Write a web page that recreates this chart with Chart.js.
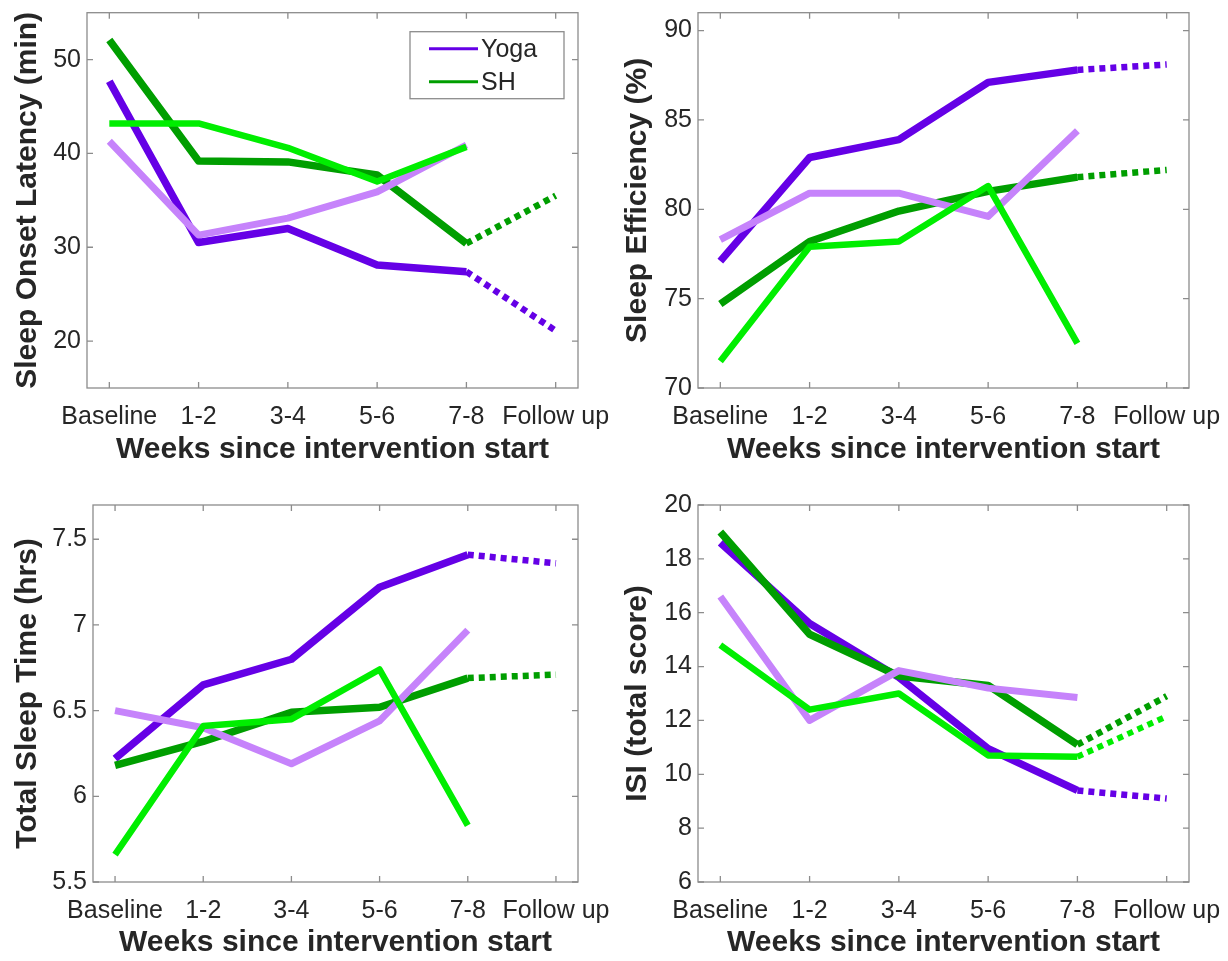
<!DOCTYPE html>
<html>
<head>
<meta charset="utf-8">
<script src="https://cdn.jsdelivr.net/npm/chart.js@4.4.0/dist/chart.umd.min.js"></script>
<style>
  body { margin: 0; background: #fff; }
  #fig { position: relative; width: 1228px; height: 961px; overflow: hidden; }
  canvas { position: absolute; }
</style>
</head>
<body>
<div id="fig">
  <canvas id="c1" width="614" height="480" style="left:0px;top:0px"></canvas>
  <canvas id="c2" width="618" height="480" style="left:610px;top:0px"></canvas>
  <canvas id="c3" width="614" height="481" style="left:0px;top:480px"></canvas>
  <canvas id="c4" width="618" height="481" style="left:610px;top:480px"></canvas>
</div>
<script>
// categorias del eje x (comunes a los 4 paneles)
var semanas = ['Baseline', '1-2', '3-4', '5-6', '7-8', 'Follow up'];

// Sleep Onset Latency (min)
var solYoga = [47.7, 30.5, 32.0, 28.1, 27.4, 21.1];
var solYoga2 = [41.3, 31.3, 33.1, 35.9, 40.9, null];
var solSH = [52.1, 39.2, 39.1, 37.7, 30.4, 35.5];
var solSH2 = [43.2, 43.2, 40.6, 37.0, 40.7, null];
var solTicks = [20, 30, 40, 50];

// Sleep Efficiency (%)
var seYoga = [77.1, 82.9, 83.9, 87.1, 87.8, 88.1];
var seYoga2 = [78.3, 80.9, 80.9, 79.6, 84.4, null];
var seSH = [74.7, 78.2, 79.9, 81.0, 81.8, 82.2];
var seSH2 = [71.5, 77.9, 78.2, 81.3, 72.5, null];
var seTicks = [70, 75, 80, 85, 90];

// Total Sleep Time (hrs)
var tstYoga = [6.22, 6.65, 6.80, 7.22, 7.41, 7.36];
var tstYoga2 = [6.50, 6.40, 6.19, 6.44, 6.97, null];
var tstSH = [6.18, 6.32, 6.49, 6.52, 6.69, 6.71];
var tstSH2 = [5.66, 6.41, 6.45, 6.74, 5.83, null];
var tstTicks = [5.5, 6, 6.5, 7, 7.5];

// ISI (total score)
var isiYoga = [18.6, 15.6, 13.6, 10.95, 9.4, 9.1];
var isiYoga2 = [16.6, 12.0, 13.85, 13.2, 12.85, null];
var isiSH = [19.0, 15.2, 13.65, 13.3, 11.1, 12.9];
var isiSH2 = [14.8, 12.4, 13.0, 10.7, 10.65, 12.15];
var isiTicks = [6, 8, 10, 12, 14, 16, 18, 20];

var colYoga = '#6500e6';
var colYoga2 = '#c683fb';
var colSH = '#009e00';
var colSH2 = '#00ee00';
var colTexto = '#262626';
var colMarco = '#8c8c8c';
var fuente = "'Liberation Sans', Arial, sans-serif";

// caja y marcas de los ejes hacia adentro (estilo matlab)
var marcoPlugin = {
  id: 'marco',
  afterDatasetsDraw: function(chart) {
    var a = chart.chartArea;
    var ctx = chart.ctx;
    var sx = chart.scales.x;
    var sy = chart.scales.y;
    ctx.save();
    ctx.strokeStyle = colMarco;
    ctx.lineWidth = 1.3;
    ctx.strokeRect(a.left, a.top, a.right - a.left, a.bottom - a.top);
    ctx.beginPath();
    sx.ticks.forEach(function(t) {
      var px = sx.getPixelForValue(t.value);
      ctx.moveTo(px, a.bottom); ctx.lineTo(px, a.bottom - 6);
      ctx.moveTo(px, a.top); ctx.lineTo(px, a.top + 6);
    });
    sy.ticks.forEach(function(t) {
      var py = sy.getPixelForValue(t.value);
      ctx.moveTo(a.left, py); ctx.lineTo(a.left + 6, py);
      ctx.moveTo(a.right, py); ctx.lineTo(a.right - 6, py);
    });
    ctx.stroke();
    ctx.restore();
  }
};

// leyenda dentro del primer panel
var leyendaPlugin = {
  id: 'leyenda',
  afterDraw: function(chart) {
    var a = chart.chartArea;
    var ctx = chart.ctx;
    var x0 = a.right - 168, y0 = a.top + 19, w = 154, h = 67;
    ctx.save();
    ctx.fillStyle = '#fff';
    ctx.fillRect(x0, y0, w, h);
    ctx.strokeStyle = colMarco;
    ctx.lineWidth = 1.3;
    ctx.strokeRect(x0, y0, w, h);
    var items = [['Yoga', colYoga, 17], ['SH', colSH, 50]];
    items.forEach(function(it) {
      ctx.strokeStyle = it[1];
      ctx.lineWidth = 3;
      ctx.beginPath();
      ctx.moveTo(x0 + 19, y0 + it[2]);
      ctx.lineTo(x0 + 68, y0 + it[2]);
      ctx.stroke();
      ctx.fillStyle = colTexto;
      ctx.font = '25px ' + fuente;
      ctx.textBaseline = 'middle';
      ctx.fillText(it[0], x0 + 71, y0 + it[2] + 1);
    });
    ctx.restore();
  }
};

function puntos(serie, desde, hasta) {
  var out = [];
  for (var i = desde; i <= hasta; i++) {
    if (serie[i] !== null) out.push({ x: i, y: serie[i] });
  }
  return out;
}

function lineaSolida(serie, color, ancho, orden) {
  return { data: puntos(serie, 0, 4), borderColor: color, borderWidth: ancho, order: orden };
}

function lineaPunteada(serie, color, ancho, orden) {
  return { data: puntos(serie, 4, 5), borderColor: color, borderWidth: ancho, order: orden,
           borderDash: [6, 5], borderCapStyle: 'butt' };
}

function crearPanel(id, p) {
  var datasets = [
    lineaSolida(p.sh2, colSH2, 6.5, 1),
    lineaSolida(p.yoga2, colYoga2, 7, 2),
    lineaSolida(p.sh, colSH, 7.5, 3),
    lineaSolida(p.yoga, colYoga, 7.5, 4)
  ];
  if (p.sh2[5] !== null) datasets.push(lineaPunteada(p.sh2, colSH2, 6, 1));
  if (p.sh[5] !== null) datasets.push(lineaPunteada(p.sh, colSH, 6.5, 3));
  if (p.yoga[5] !== null) datasets.push(lineaPunteada(p.yoga, colYoga, 6.5, 4));

  var plugins = [marcoPlugin];
  if (p.leyenda) plugins.push(leyendaPlugin);

  new Chart(document.getElementById(id).getContext('2d'), {
    type: 'line',
    data: { datasets: datasets },
    plugins: plugins,
    options: {
      responsive: false,
      animation: false,
      devicePixelRatio: 1,
      layout: { padding: { top: p.arriba, right: p.derecha, bottom: 0, left: 0 } },
      elements: {
        point: { radius: 0 },
        line: { tension: 0, fill: false, borderJoinStyle: 'round', borderCapStyle: 'butt' }
      },
      plugins: { legend: { display: false }, tooltip: { enabled: false } },
      scales: {
        x: {
          type: 'linear',
          min: -0.25,
          max: 5.25,
          grid: { display: false, drawTicks: false },
          border: { display: false },
          afterBuildTicks: function(s) {
            s.ticks = semanas.map(function(n, i) { return { value: i }; });
          },
          afterFit: function(s) {
            s.height = p.altoX;
            s.paddingLeft = 0;
            s.paddingRight = 0;
          },
          ticks: {
            autoSkip: false,
            maxRotation: 0,
            minRotation: 0,
            padding: 14,
            color: colTexto,
            font: { family: fuente, size: 25 },
            callback: function(v) { return semanas[v]; }
          },
          title: {
            display: true,
            text: 'Weeks since intervention start',
            color: colTexto,
            font: { family: fuente, size: 30, weight: 'bold' },
            padding: { top: 0, bottom: p.tituloX }
          }
        },
        y: {
          min: p.min,
          max: p.max,
          grid: { display: false, drawTicks: false },
          border: { display: false },
          afterBuildTicks: function(s) {
            s.ticks = p.ticks.map(function(v) { return { value: v }; });
          },
          afterFit: function(s) {
            s.width = p.anchoY;
            s.paddingTop = 0;
            s.paddingBottom = 0;
          },
          ticks: {
            padding: 6,
            color: colTexto,
            font: { family: fuente, size: 25 },
            callback: function(v) { return String(v); }
          },
          title: {
            display: true,
            text: p.titulo,
            color: colTexto,
            font: { family: fuente, size: 30, weight: 'bold' },
            padding: { top: 10, bottom: 0 }
          }
        }
      }
    }
  });
}

crearPanel('c1', { yoga: solYoga, yoga2: solYoga2, sh: solSH, sh2: solSH2, ticks: solTicks,
  min: 15, max: 55, titulo: 'Sleep Onset Latency (min)', leyenda: true,
  arriba: 12.7, derecha: 36, anchoY: 87, altoX: 92, tituloX: 12 });

crearPanel('c2', { yoga: seYoga, yoga2: seYoga2, sh: seSH, sh2: seSH2, ticks: seTicks,
  min: 70, max: 91, titulo: 'Sleep Efficiency (%)',
  arriba: 12.7, derecha: 39, anchoY: 88, altoX: 92, tituloX: 12 });

crearPanel('c3', { yoga: tstYoga, yoga2: tstYoga2, sh: tstSH, sh2: tstSH2, ticks: tstTicks,
  min: 5.5, max: 7.7, titulo: 'Total Sleep Time (hrs)',
  arriba: 25, derecha: 36, anchoY: 93, altoX: 79, tituloX: 0 });

crearPanel('c4', { yoga: isiYoga, yoga2: isiYoga2, sh: isiSH, sh2: isiSH2, ticks: isiTicks,
  min: 6, max: 20, titulo: 'ISI (total score)',
  arriba: 25, derecha: 39, anchoY: 88, altoX: 79, tituloX: 0 });
</script>
</body>
</html>
